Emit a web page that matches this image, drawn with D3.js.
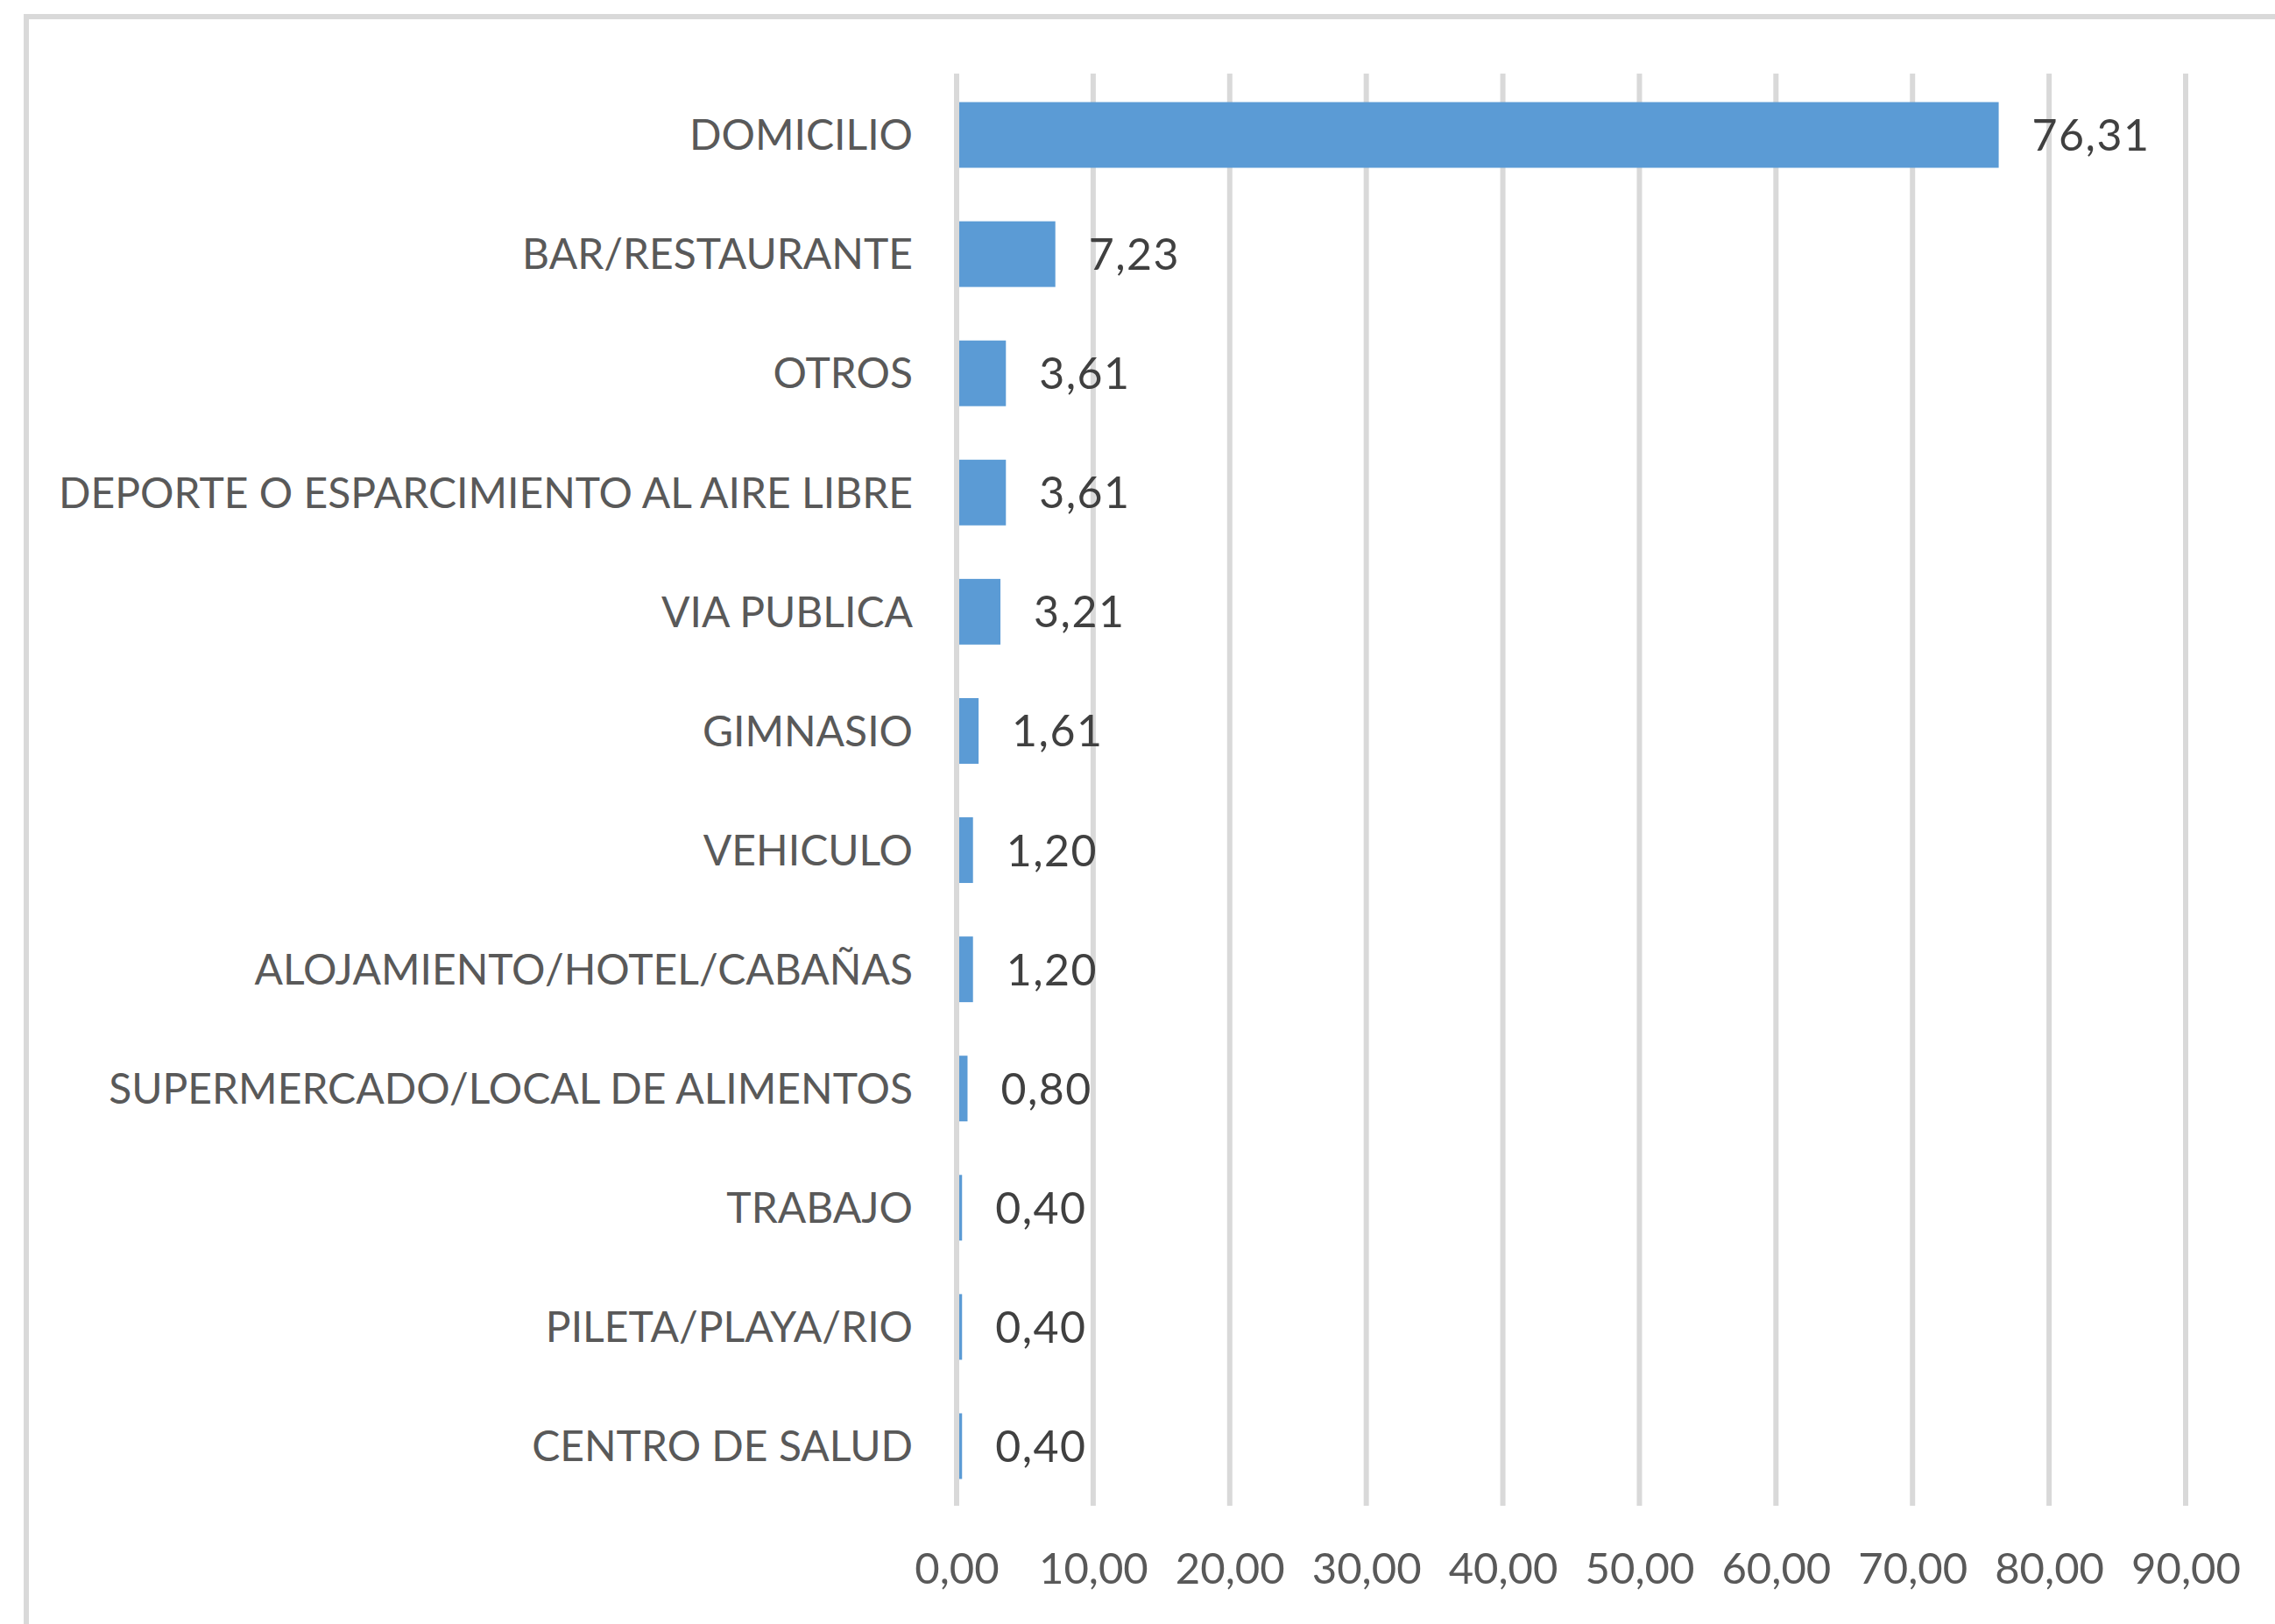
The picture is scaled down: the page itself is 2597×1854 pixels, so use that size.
<!DOCTYPE html>
<html>
<head>
<meta charset="utf-8">
<script src="https://cdn.jsdelivr.net/npm/d3@7"></script>
<style>
  html, body { margin: 0; padding: 0; background: #fff; }
  svg { display: block; }
</style>
</head>
<body>
<div id="chart"></div>
<script>
// data
var categories = [
  "DOMICILIO",
  "BAR/RESTAURANTE",
  "OTROS",
  "DEPORTE O ESPARCIMIENTO AL AIRE LIBRE",
  "VIA PUBLICA",
  "GIMNASIO",
  "VEHICULO",
  "ALOJAMIENTO/HOTEL/CABAÑAS",
  "SUPERMERCADO/LOCAL DE ALIMENTOS",
  "TRABAJO",
  "PILETA/PLAYA/RIO",
  "CENTRO DE SALUD"
];
var values = [76.31, 7.23, 3.61, 3.61, 3.21, 1.61, 1.20, 1.20, 0.80, 0.40, 0.40, 0.40];
var tickValues = [0, 10, 20, 30, 40, 50, 60, 70, 80, 90];

(function() {
  var width = 2597, height = 1854;
  var fmt = function(v) { return d3.format(".2f")(v).replace(".", ","); };

  var svg = d3.select("#chart").append("svg")
    .attr("width", width)
    .attr("height", height);

  // chart area frame (runs off the right and bottom edges)
  svg.append("rect")
    .attr("x", 30).attr("y", 19)
    .attr("width", 2800).attr("height", 2200)
    .attr("fill", "#fff")
    .attr("stroke", "#d9d9d9")
    .attr("stroke-width", 6);

  var x = d3.scaleLinear().domain([0, 90]).range([1092, 2495]);
  var y = d3.scaleBand().domain(categories).range([86, 1719])
    .paddingInner(0.449).paddingOuter(0.2245);

  var rows = categories.map(function(c, i) { return { cat: c, val: values[i] }; });

  // gridlines
  svg.append("g").selectAll("line")
    .data(tickValues.slice(1))
    .enter().append("line")
    .attr("x1", function(d) { return x(d); })
    .attr("x2", function(d) { return x(d); })
    .attr("y1", 84).attr("y2", 1719)
    .attr("stroke", "#d9d9d9")
    .attr("stroke-width", 6);

  // bars
  svg.append("g").selectAll("rect")
    .data(rows)
    .enter().append("rect")
    .attr("x", x(0))
    .attr("y", function(d) { return y(d.cat); })
    .attr("width", function(d) { return x(d.val) - x(0); })
    .attr("height", y.bandwidth())
    .attr("fill", "#5b9bd5");

  // vertical axis line at zero, drawn over the bars
  svg.append("line")
    .attr("x1", x(0)).attr("x2", x(0))
    .attr("y1", 84).attr("y2", 1719)
    .attr("stroke", "#d9d9d9")
    .attr("stroke-width", 6);

  // value labels
  svg.append("g").selectAll("text")
    .data(rows)
    .enter().append("text")
    .attr("x", function(d) { return x(d.val) + 38; })
    .attr("y", function(d) { return y(d.cat) + y.bandwidth() / 2; })
    .attr("dy", "0.36em")
    .attr("font-family", "Lato, sans-serif")
    .attr("font-size", 50)
    .attr("letter-spacing", 1.5)
    .attr("fill", "#404040")
    .text(function(d) { return fmt(d.val); });

  // category labels
  var yAxis = d3.axisLeft(y).tickSize(0).tickPadding(0);
  var ya = svg.append("g")
    .attr("transform", "translate(1042,0)")
    .call(yAxis);
  ya.select(".domain").remove();
  ya.selectAll("text")
    .attr("font-family", "Lato, sans-serif")
    .attr("font-size", 48)
    .attr("fill", "#595959")
    .attr("dy", "0.36em");

  // x tick labels
  var xAxis = d3.axisBottom(x).tickValues(tickValues).tickSize(0).tickPadding(0)
    .tickFormat(fmt);
  var xa = svg.append("g")
    .attr("transform", "translate(0,1808)")
    .call(xAxis);
  xa.select(".domain").remove();
  xa.selectAll("text")
    .attr("font-family", "Lato, sans-serif")
    .attr("font-size", 49)
    .attr("fill", "#595959")
    .attr("dy", "0");
})();
</script>
</body>
</html>
